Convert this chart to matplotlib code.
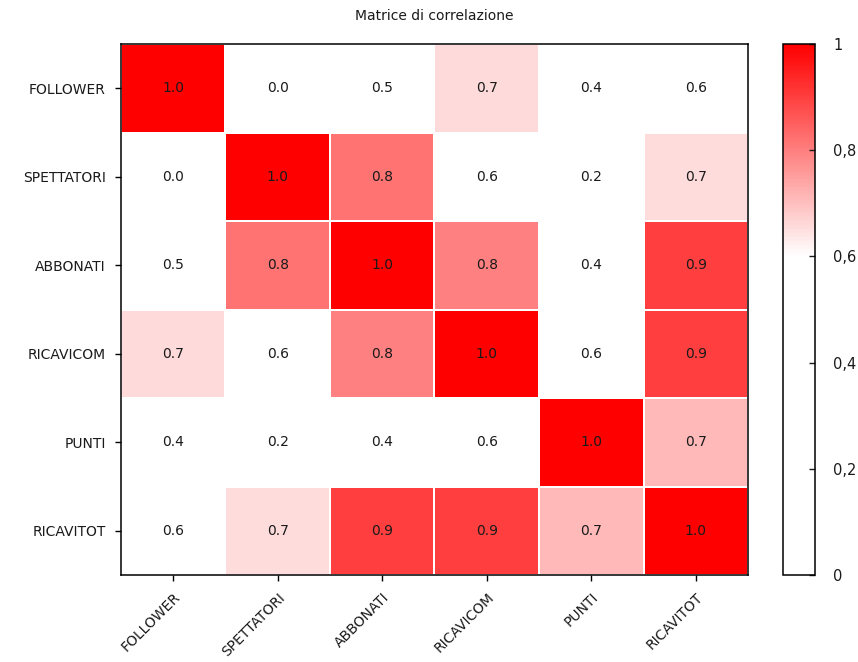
import numpy as np
import matplotlib
matplotlib.use("Agg")
import matplotlib.pyplot as plt
from matplotlib.colors import LinearSegmentedColormap
from matplotlib.ticker import FuncFormatter

variables = ["FOLLOWER", "SPETTATORI", "ABBONATI", "RICAVICOM", "PUNTI", "RICAVITOT"]

# correlation matrix (symmetric)
row_follower   = [1.00, 0.02, 0.50, 0.66, 0.40, 0.59]
row_spettatori = [0.02, 1.00, 0.82, 0.59, 0.20, 0.655]
row_abbonati   = [0.50, 0.82, 1.00, 0.80, 0.40, 0.90]
row_ricavicom  = [0.66, 0.59, 0.80, 1.00, 0.59, 0.90]
row_punti      = [0.40, 0.20, 0.40, 0.59, 1.00, 0.71]
row_ricavitot  = [0.59, 0.655, 0.90, 0.90, 0.71, 1.00]

corr = np.array([row_follower, row_spettatori, row_abbonati,
                 row_ricavicom, row_punti, row_ricavitot])

cbar_ticks = [0, 0.2, 0.4, 0.6, 0.8, 1.0]

# white up to 0.6, then fade to pure red
cmap = LinearSegmentedColormap.from_list(
    "wr", [(0.0, "#ffffff"), (0.6, "#ffffff"), (1.0, "#ff0000")])

txt = "#1a1a1a"
fig = plt.figure(figsize=(8.58, 6.62), dpi=100)
ax = fig.add_axes([0.141, 0.1314, 0.7308, 0.802])
cax = fig.add_axes([0.9126, 0.1314, 0.0373, 0.802])

n = len(variables)
mesh = ax.pcolormesh(np.arange(n + 1), np.arange(n + 1), corr, cmap=cmap,
                     vmin=0, vmax=1, edgecolors="white", linewidth=1.2)
ax.set_xlim(0, n)
ax.set_ylim(n, 0)

for i in range(n):
    for j in range(n):
        ax.text(j + 0.5, i + 0.5, f"{corr[i, j]:.1f}", ha="center", va="center",
                fontsize=10, color=txt)

ax.set_xticks(np.arange(n) + 0.5)
ax.set_yticks(np.arange(n) + 0.5)
ax.set_xticklabels(variables, rotation=45, ha="right", rotation_mode="anchor",
                   fontsize=10, color=txt)
ax.set_yticklabels(variables, fontsize=10, color=txt)
ax.tick_params(length=4, width=1, pad=7)
for s in ax.spines.values():
    s.set_linewidth(1.1)

ax.set_title("Matrice di correlazione", fontsize=10, color=txt, pad=17)

cb = fig.colorbar(mesh, cax=cax, ticks=cbar_ticks)
cb.outline.set_linewidth(1.1)
cax.tick_params(direction="in", length=4, width=1, labelsize=10.5,
                colors=txt, pad=13)
cax.yaxis.set_major_formatter(
    FuncFormatter(lambda v, p: ("%g" % v).replace(".", ",")))

fig.savefig("out.png", dpi=100)
